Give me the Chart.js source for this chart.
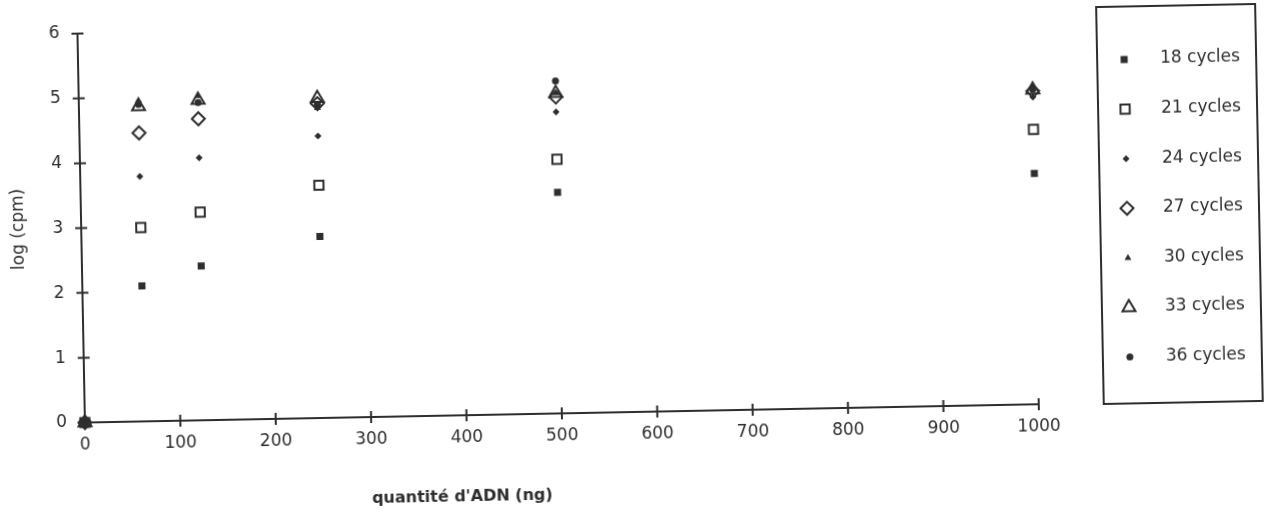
<!DOCTYPE html>
<html lang="fr">
<head>
<meta charset="UTF-8">
<title>log (cpm) selon la quantité d'ADN</title>
<script src="https://cdn.jsdelivr.net/npm/chart.js@4.4.0/dist/chart.umd.min.js"></script>
<style>
    html, body { margin: 0; padding: 0; background: #fff; overflow: hidden; }
    /* the scanned figure is slightly tilted */
    .chart-container { width: 1265px; height: 529px; transform: rotate(-1.1deg); }
</style>
</head>
<body>
<div class="chart-container"><canvas id="pcrChart" width="1265" height="529"></canvas></div>
<script>
    // DNA quantity (ng) and log(cpm) per number of PCR cycles
    const quantities = [0, 62.5, 125, 250, 500, 1000];
    const cycles18 = [0, 2.09, 2.38, 2.80, 3.41, 3.56];
    const cycles21 = [0, 2.99, 3.21, 3.59, 3.92, 4.24];
    const cycles24 = [0, 3.78, 4.05, 4.35, 4.65, 4.74];
    const cycles27 = [0, 4.45, 4.65, 4.85, 4.88, 4.83];
    const cycles30 = [0, 4.95, 5.00, 4.78, 4.94, 4.90];
    const cycles33 = [0, 4.86, 4.94, 4.93, 4.94, 4.85];
    const cycles36 = [0, 4.89, 4.90, 4.84, 5.13, 4.86];
    const seriesLabels = ['18 cycles', '21 cycles', '24 cycles', '27 cycles', '30 cycles', '33 cycles', '36 cycles'];
    const xTicks = [0, 100, 200, 300, 400, 500, 600, 700, 800, 900, 1000];
    const yTicks = [0, 1, 2, 3, 4, 5, 6];

    const ink = '#2e2e2e';
    const font = '"DejaVu Sans", Verdana, sans-serif';
    const none = 'rgba(0,0,0,0)';

    // marker for each series: [pointStyle, radius, fill, borderWidth]
    const markers = [
        ['rect', 5, ink, 0],
        ['rect', 6.5, none, 2],
        ['rectRot', 3.5, ink, 0],
        ['rectRot', 6.5, none, 2],
        ['triangle', 4, ink, 0],
        ['triangle', 7.5, none, 2],
        ['circle', 3.5, ink, 0]
    ];

    const allSeries = [cycles18, cycles21, cycles24, cycles27, cycles30, cycles33, cycles36];

    const datasets = allSeries.map((values, i) => ({
        label: seriesLabels[i],
        data: quantities.map((q, j) => ({ x: q, y: values[j] })),
        showLine: false,
        pointStyle: markers[i][0],
        pointRadius: markers[i][1],
        pointHoverRadius: markers[i][1],
        pointBackgroundColor: markers[i][2],
        pointBorderColor: ink,
        pointBorderWidth: markers[i][3],
        clip: false
    }));

    // cross-shaped tick marks on both axes
    const crossTicks = {
        id: 'crossTicks',
        beforeDatasetsDraw(chart) {
            const { ctx, chartArea, scales: { x, y } } = chart;
            ctx.save();
            ctx.strokeStyle = ink;
            ctx.lineWidth = 2;
            ctx.beginPath();
            xTicks.forEach(v => {
                const px = x.getPixelForValue(v);
                ctx.moveTo(px, chartArea.bottom - 6);
                ctx.lineTo(px, chartArea.bottom + 6);
            });
            yTicks.forEach(v => {
                const py = y.getPixelForValue(v);
                ctx.moveTo(chartArea.left - 6, py);
                ctx.lineTo(chartArea.left + 6, py);
            });
            ctx.stroke();
            ctx.restore();
        }
    };

    // x title (off-centre in the original) and the boxed legend
    const boxLegend = {
        id: 'boxLegend',
        afterDraw(chart) {
            const { ctx, chartArea } = chart;
            ctx.save();
            ctx.fillStyle = ink;
            ctx.textAlign = 'center';
            ctx.textBaseline = 'middle';
            ctx.font = 'bold 16px ' + font;
            ctx.fillText("quantité d'ADN (ng)", chartArea.left + 376, chartArea.bottom + 82);

            const left = chartArea.right + 65, top = 16, w = 159, h = 397;
            ctx.strokeStyle = ink;
            ctx.lineWidth = 2;
            ctx.strokeRect(left, top, w, h);

            ctx.font = '17px ' + font;
            ctx.textAlign = 'left';
            chart.data.datasets.forEach((ds, i) => {
                const cy = top + 53 + i * 49.6;
                ctx.fillStyle = ds.pointBackgroundColor;
                ctx.strokeStyle = ink;
                ctx.lineWidth = ds.pointBorderWidth;
                Chart.helpers.drawPoint(ctx, {
                    pointStyle: ds.pointStyle,
                    radius: ds.pointRadius,
                    rotation: 0,
                    borderWidth: ds.pointBorderWidth
                }, left + 27, cy);
                ctx.fillStyle = ink;
                ctx.fillText(ds.label, left + 63, cy);
            });
            ctx.restore();
        }
    };

    new Chart(document.getElementById('pcrChart'), {
        type: 'scatter',
        data: { datasets: datasets },
        plugins: [crossTicks, boxLegend],
        options: {
            responsive: false,
            animation: false,
            layout: { autoPadding: false, padding: { top: 23, right: 229, left: 0, bottom: 0 } },
            plugins: {
                legend: { display: false },
                tooltip: { enabled: false }
            },
            scales: {
                x: {
                    type: 'linear',
                    min: 0,
                    max: 1000,
                    afterFit: s => { s.height = 117; },
                    afterBuildTicks: s => { s.ticks = xTicks.map(v => ({ value: v })); },
                    ticks: {
                        color: ink,
                        padding: 12,
                        font: { family: font, size: 17 },
                        callback: v => String(v)
                    },
                    grid: { display: false, drawTicks: false },
                    border: { display: true, color: ink, width: 2 }
                },
                y: {
                    type: 'linear',
                    min: 0,
                    max: 6,
                    // tick padding would otherwise push the plot top down
                    afterFit: s => { s.width = 82; s.paddingTop = 0; s.paddingBottom = 0; },
                    afterBuildTicks: s => { s.ticks = yTicks.map(v => ({ value: v })); },
                    ticks: { color: ink, padding: 18, font: { family: font, size: 17 } },
                    grid: { display: false, drawTicks: false },
                    border: { display: true, color: ink, width: 2 },
                    title: {
                        display: true,
                        text: 'log (cpm)',
                        color: ink,
                        padding: { top: 9, bottom: 0 },
                        font: { family: font, size: 17 }
                    }
                }
            }
        }
    });
</script>
</body>
</html>
